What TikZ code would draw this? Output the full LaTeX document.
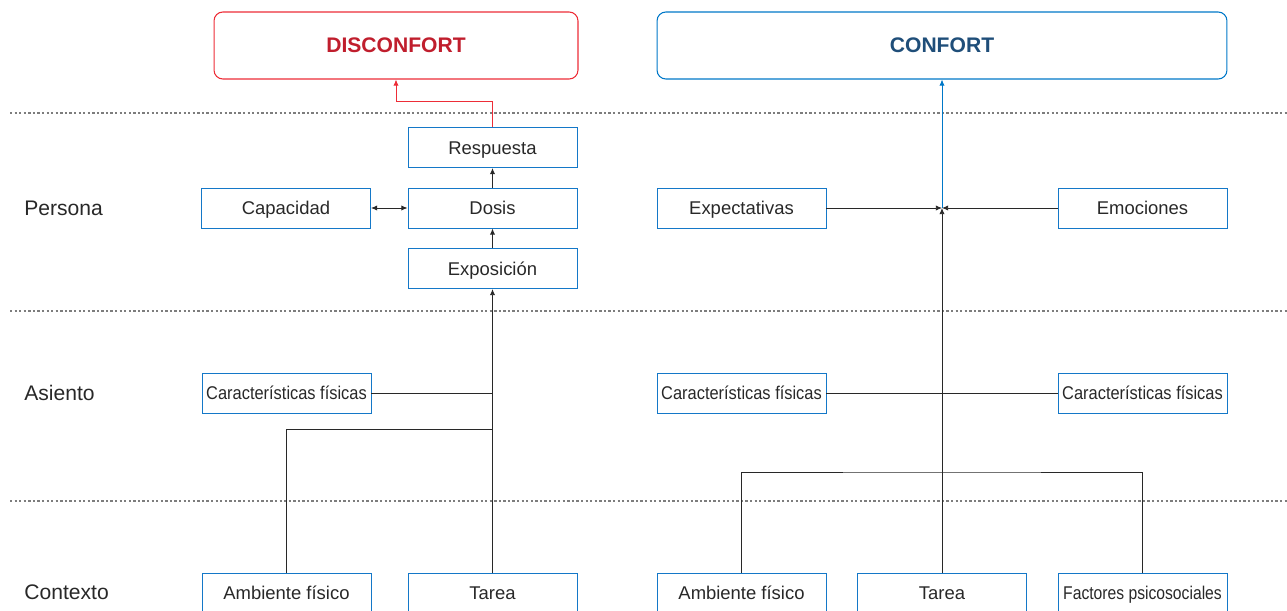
\documentclass[tikz,border=0pt]{standalone}
\usepackage{fontspec}
\setmainfont{Liberation Sans}
\usepackage{tikz}
\usetikzlibrary{arrows.meta,calc}
\definecolor{boxblue}{RGB}{20,120,200}
\definecolor{lineblue}{RGB}{0,120,200}
\definecolor{txtblue}{RGB}{31,78,121}
\definecolor{linered}{RGB}{237,45,55}
\definecolor{txtred}{RGB}{192,30,45}
\definecolor{ink}{RGB}{40,40,40}
\definecolor{sepgray}{RGB}{125,125,125}
\tikzstyle{blk}=[rectangle, draw=boxblue, line width=0.55pt,% plain box of the chart
minimum width=3.38cm, minimum height=0.8cm, inner sep=0pt,
text height=7.5pt, text depth=0pt,
text=ink, font=\fontsize{10.5}{12}\selectfont]
\tikzstyle{hdr}=[rectangle, rounded corners=5pt, line width=0.6pt,% the two results
minimum height=1.34cm, inner sep=0pt, font=\bfseries\fontsize{12}{14}\selectfont]
\tikzstyle{rowlbl}=[anchor=west, inner sep=0pt, text=ink, font=\fontsize{12}{14}\selectfont]
\tikzstyle{sep}=[sepgray, line width=0.6pt, dash pattern=on 1.3pt off 1.3pt]
\tikzstyle{lnk}=[ink, line width=0.5pt, -{Latex[length=3.5pt,width=3pt]}]
\tikzstyle{wire}=[ink, line width=0.5pt]

\begin{document}
\begin{tikzpicture}[x=0.02cm, y=-0.02cm]
\clip (0,0) rectangle (1287,611);
% levels
\draw[sep] (10,113) -- (1287,113);
\draw[sep] (10,311) -- (1287,311);
\draw[sep] (10,501) -- (1287,501);
\node[rowlbl] (lper) at (24,208) {Persona};
\node[rowlbl] (lasi) at (24,393) {Asiento};
\node[rowlbl] (lcon) at (24,592) {Contexto};
% results
\node[hdr, draw=linered, text=txtred, minimum width=7.28cm] (disc) at (396,45.5) {DISCONFORT};
\node[hdr, draw=lineblue, text=txtblue, minimum width=11.4cm] (conf) at (942,45.5) {CONFORT};
% left side
\node[blk] (resp) at (492.5,147.5) {Respuesta};
\node[blk] (dosi) at (492.5,208) {Dosis};
\node[blk] (expo) at (492.5,268.5) {Exposición};
\node[blk] (capa) at (286,208) {Capacidad};
\node[blk] (cfl) at (286.5,393) {\scalebox{0.89}[1]{Características físicas}};
\node[blk] (ambl) at (286.5,593) {Ambiente físico};
\node[blk] (tarl) at (492.5,593) {Tarea};
% right side
\node[blk] (expt) at (741.5,208) {Expectativas};
\node[blk] (emoc) at (1142.5,208) {Emociones};
\node[blk] (cfm) at (741.5,393) {\scalebox{0.89}[1]{Características físicas}};
\node[blk] (cfr) at (1142.5,393) {\scalebox{0.89}[1]{Características físicas}};
\node[blk] (ambr) at (741.5,593) {Ambiente físico};
\node[blk] (tarr) at (942,593) {Tarea};
\node[blk] (fact) at (1142.5,593) {\scalebox{0.85}[1]{Factores psicosociales}};
\coordinate (rbend) at (396,101);
\coordinate (jcf) at (492.5,393);
\coordinate (jl) at (492.5,429);
\coordinate (hub) at (942,208);
\coordinate (jr) at (942,472);
% connectors
\draw[lnk, linered] (resp.north) |- (rbend) -- (disc.south);
\draw[lnk] (dosi) -- (resp);
\draw[lnk] (expo) -- (dosi);
\draw[lnk, {Latex[length=3.5pt,width=3pt]}-{Latex[length=3.5pt,width=3pt]}] (capa) -- (dosi);
\draw[lnk] (tarl) -- (expo);
\draw[wire] (cfl) -- (jcf);
\draw[wire] (ambl.north) |- (jl);
\draw[lnk, lineblue] (hub) -- (conf.south);
\draw[lnk] (expt) -- (hub);
\draw[lnk] (emoc) -- (hub);
\draw[lnk] (tarr) -- (hub);
\draw[wire] (cfm) -- (cfr);
\draw[wire] (ambr.north) |- (jr) -| (fact.north);
\end{tikzpicture}
\end{document}
